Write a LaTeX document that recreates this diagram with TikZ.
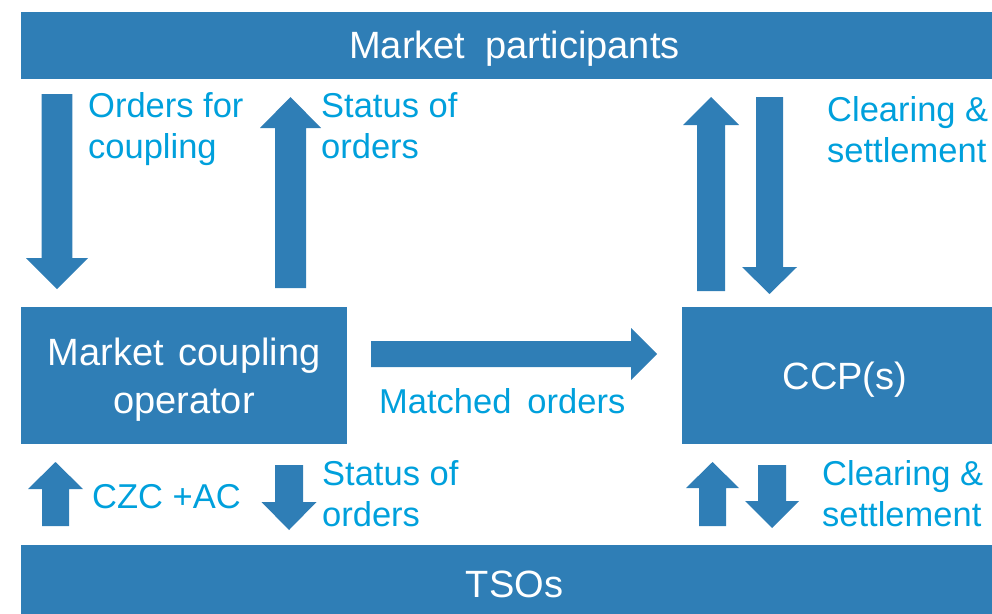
\documentclass[tikz,border=0pt]{standalone}
\usepackage{fontspec}
\setmainfont{Liberation Sans}
\definecolor{boxblue}{RGB}{47,126,182}
\definecolor{labcyan}{RGB}{0,160,220}
\tikzset{
  box/.style={fill=boxblue, draw=none, inner sep=0pt, text=white,
    font=\fontsize{38}{48}\selectfont, text height=27.2pt, text depth=0pt},
  maintext/.style={text=white, inner sep=0pt, font=\fontsize{38}{48}\selectfont},
  lab/.style={text=labcyan, inner sep=0pt, anchor=base west,
    font=\fontsize{34.5}{41.5}\selectfont},
  blockarrow/.style={fill=boxblue, draw=none}
}
% cx, ytail, ybase, ytip, shaft half width, head half width
\newcommand\vbarrow[6]{%
  \path[blockarrow] ({#1-#5},#2) -- ({#1+#5},#2) -- ({#1+#5},#3) -- ({#1+#6},#3)
    -- (#1,#4) -- ({#1-#6},#3) -- ({#1-#5},#3) -- cycle;}
\begin{document}
\begin{tikzpicture}[x=1pt,y=-1pt]
\useasboundingbox (0,0) rectangle (992,613);
\clip (0,0) rectangle (992,613);

% boxes
\node[box, minimum width=987pt, minimum height=67pt] (mp) at (514.5,45) {Market\hspace{20pt}participants};
\node[box, minimum width=326pt, minimum height=137pt] (mco) at (184,375.5) {};
\node[maintext, anchor=base] (mcotext) at (184,365)
  {\begin{tabular}[t]{@{}c@{}}Market\hspace{15pt}coupling\\operator\end{tabular}};
\node[box, minimum width=326pt, minimum height=137pt] (ccp) at (845,375.5) {CCP(s)};
\node[box, minimum width=987pt, minimum height=77pt] (tso) at (514.5,583.5) {TSOs};

% block arrows
\vbarrow{57}{94}{258}{289}{15.3}{31}
\vbarrow{290.5}{288}{128}{97}{15.5}{30.5}
\vbarrow{711}{291}{125}{97}{14}{28}
\vbarrow{769.5}{97}{267}{294}{13.5}{27.5}
\vbarrow{55.5}{526}{489}{462}{13.5}{27.5}
\vbarrow{289}{465}{502}{530}{14}{27.5}
\vbarrow{712.5}{526}{488}{462}{13.5}{26.5}
\vbarrow{772}{465}{501}{528}{14}{27}
\path[blockarrow] (371,341) -- (631,341) -- (631,328) -- (657,354)
  -- (631,380) -- (631,367) -- (371,367) -- cycle;

% labels
\node[lab] (l1) at (88,117) {\begin{tabular}[t]{@{}l@{}}Orders for\\coupling\end{tabular}};
\node[lab] (l2) at (321,117) {\begin{tabular}[t]{@{}l@{}}Status of\\orders\end{tabular}};
\node[lab] (l3) at (827,121) {\begin{tabular}[t]{@{}l@{}}Clearing \&\\settlement\end{tabular}};
\node[lab] (l4) at (379,413) {Matched\hspace{16pt}orders};
\node[lab] (l5) at (92,508) {CZC +AC};
\node[lab] (l6) at (322,485) {\begin{tabular}[t]{@{}l@{}}Status of\\orders\end{tabular}};
\node[lab] (l7) at (822,485) {\begin{tabular}[t]{@{}l@{}}Clearing \&\\settlement\end{tabular}};
\end{tikzpicture}
\end{document}
